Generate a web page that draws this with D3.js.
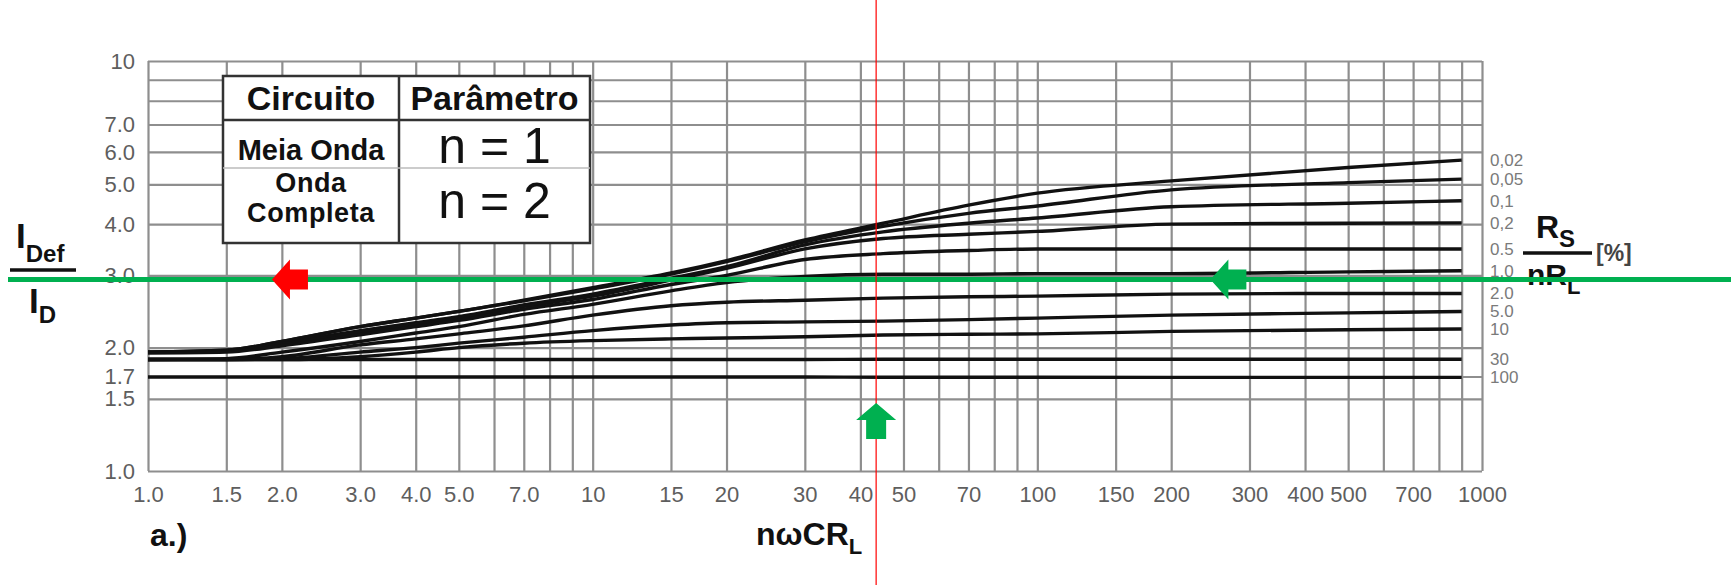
<!DOCTYPE html>
<html>
<head>
<meta charset="utf-8">
<script src="https://cdn.jsdelivr.net/npm/d3@7"></script>
<style>
  body { margin: 0; background: #fff; }
  svg { display: block; }
</style>
</head>
<body>
<svg id="chart"></svg>
<script>
// ---- data ----
const xTicks = [1, 1.5, 2, 3, 4, 5, 7, 10, 15, 20, 30, 40, 50, 70, 100, 150, 200, 300, 400, 500, 700, 1000]
const xTickLabels = ["1.0", "1.5", "2.0", "3.0", "4.0", "5.0", "7.0", "10", "15", "20", "30", "40", "50", "70", "100", "150", "200", "300", "400", "500", "700", "1000"]
const xGrid = [1, 1.5, 2, 3, 4, 5, 6, 7, 8, 9, 10, 15, 20, 30, 40, 50, 60, 70, 80, 90, 100, 150, 200, 300, 400, 500, 600, 700, 800, 900, 1000]
const yTicks = [1, 1.5, 1.7, 2, 3, 4, 5, 6, 7, 10]
const yTickLabels = ["1.0", "1.5", "1.7", "2.0", "3.0", "4.0", "5.0", "6.0", "7.0", "10"]
const yGrid = [1, 1.5, 1.7, 2, 3, 4, 5, 6, 7, 8, 9, 10]

// nωCR_L sample points shared by every curve
const xs = [1, 1.5, 2, 3, 4, 5, 7, 10, 15, 20, 30, 45, 70, 100, 200, 500, 900]

// I_Def / I_D for each Rs/nRL [%]
const r002 = [1.95, 1.97, 2.07, 2.25, 2.36, 2.45, 2.61, 2.8, 3.04, 3.26, 3.66, 4.02, 4.45, 4.76, 5.1, 5.5, 5.73]
const r005 = [1.95, 1.97, 2.07, 2.25, 2.36, 2.45, 2.6, 2.78, 3.02, 3.24, 3.62, 3.95, 4.25, 4.43, 4.85, 5.05, 5.15]
const r01 = [1.95, 1.96, 2.05, 2.2, 2.3, 2.38, 2.54, 2.7, 2.95, 3.15, 3.56, 3.83, 4.02, 4.14, 4.41, 4.5, 4.56]
const r02 = [1.95, 1.96, 2.04, 2.18, 2.28, 2.36, 2.52, 2.67, 2.92, 3.12, 3.48, 3.69, 3.78, 3.84, 4.0, 4.02, 4.03]
const r05 = [1.94, 1.95, 2.02, 2.15, 2.25, 2.33, 2.48, 2.62, 2.85, 3.0, 3.28, 3.39, 3.45, 3.48, 3.48, 3.48, 3.48]
const r1 = [1.87, 1.88, 1.95, 2.07, 2.17, 2.25, 2.41, 2.55, 2.75, 2.88, 2.98, 3.02, 3.02, 3.03, 3.03, 3.06, 3.08]
const r2 = [1.87, 1.87, 1.9, 2.03, 2.1, 2.16, 2.26, 2.4, 2.53, 2.58, 2.61, 2.64, 2.66, 2.67, 2.7, 2.71, 2.71]
const r5 = [1.87, 1.87, 1.88, 1.95, 2.0, 2.05, 2.12, 2.2, 2.27, 2.3, 2.31, 2.32, 2.34, 2.36, 2.4, 2.43, 2.45]
const r10 = [1.87, 1.87, 1.87, 1.9, 1.95, 2.0, 2.05, 2.08, 2.1, 2.11, 2.125, 2.146, 2.155, 2.16, 2.19, 2.21, 2.22]
const r30 = [1.87, 1.87, 1.87, 1.87, 1.87, 1.87, 1.87, 1.87, 1.87, 1.87, 1.87, 1.873, 1.873, 1.873, 1.873, 1.873, 1.873]
const r100 = [1.695, 1.695, 1.695, 1.695, 1.695, 1.695, 1.695, 1.695, 1.695, 1.695, 1.695, 1.693, 1.693, 1.693, 1.692, 1.692, 1.692]

const curveLabels = ["0,02", "0,05", "0,1", "0,2", "0.5", "1.0", "2.0", "5.0", "10", "30", "100"]
const curveValues = [r002, r005, r01, r02, r05, r1, r2, r5, r10, r30, r100]

// reading marks drawn over the chart
const markX = 43.4
const markY = 2.93
const redArrowX = 1.9
const greenArrowX = 245
const upArrowY = 1.465

// ---- layout ----
const width = 1734
const height = 585
const plot = { left: 148, right: 1482, top: 61, bottom: 471 }

const svg = d3.select("#chart").attr("width", width).attr("height", height)
svg.append("rect").attr("width", width).attr("height", height).attr("fill", "#fff")

const x = d3.scaleLog().domain([1, 1000]).range([plot.left, plot.right])
const y = d3.scaleLog().domain([1, 10]).range([plot.bottom, plot.top])

const gridColor = "#8e8e8e"
const tickColor = "#5e5e5e"
const font = "'Liberation Sans', Arial, sans-serif"

// grid
svg.append("g")
  .attr("transform", `translate(0,${plot.bottom})`)
  .call(d3.axisBottom(x).tickValues(xGrid).tickFormat("").tickSize(-(plot.bottom - plot.top)))
  .call((g) => g.select(".domain").remove())
  .call((g) => g.selectAll("line").attr("stroke", gridColor).attr("stroke-width", 2.2))

svg.append("g")
  .attr("transform", `translate(${plot.left},0)`)
  .call(d3.axisLeft(y).tickValues(yGrid).tickFormat("").tickSize(-(plot.right - plot.left)))
  .call((g) => g.select(".domain").remove())
  .call((g) => g.selectAll("line").attr("stroke", gridColor).attr("stroke-width", 2.2))

// tick labels
svg.append("g")
  .attr("transform", `translate(0,${plot.bottom + 12})`)
  .call(d3.axisBottom(x).tickValues(xTicks).tickFormat((d, i) => xTickLabels[i]).tickSize(0))
  .call((g) => g.select(".domain").remove())
  .call((g) => g.selectAll("text")
    .attr("fill", tickColor)
    .style("font-family", font)
    .style("font-size", "22px"))

svg.append("g")
  .attr("transform", `translate(${plot.left - 10},0)`)
  .call(d3.axisLeft(y).tickValues(yTicks).tickFormat((d, i) => yTickLabels[i]).tickSize(0))
  .call((g) => g.select(".domain").remove())
  .call((g) => g.selectAll("text")
    .attr("fill", tickColor)
    .attr("dx", 0)
    .style("font-family", font)
    .style("font-size", "22px"))

// curves
const line = d3.line()
  .x((d) => x(d[0]))
  .y((d) => y(d[1]))
  .curve(d3.curveMonotoneX)

svg.append("g")
  .selectAll("path")
  .data(curveValues)
  .enter()
  .append("path")
  .attr("d", (vals) => line(xs.map((v, i) => [v, vals[i]])))
  .attr("fill", "none")
  .attr("stroke", "#111")
  .attr("stroke-width", 3.4)

// curve labels on the right
svg.append("g")
  .selectAll("text")
  .data(curveValues)
  .enter()
  .append("text")
  .attr("x", plot.right + 8)
  .attr("y", (vals) => y(vals[vals.length - 1]) + 6)
  .attr("fill", "#7a7a7a")
  .style("font-family", font)
  .style("font-size", "17px")
  .text((d, i) => curveLabels[i])

// table
const tbl = { left: 223, mid: 399, right: 590, top: 76, row1: 120, row2: 168, bottom: 243 }
const tg = svg.append("g")
tg.append("rect")
  .attr("x", tbl.left).attr("y", tbl.top)
  .attr("width", tbl.right - tbl.left).attr("height", tbl.bottom - tbl.top)
  .attr("fill", "#fff").attr("stroke", "#333").attr("stroke-width", 2.5)
tg.append("line").attr("x1", tbl.mid).attr("x2", tbl.mid).attr("y1", tbl.top).attr("y2", tbl.bottom)
  .attr("stroke", "#333").attr("stroke-width", 2.5)
tg.append("line").attr("x1", tbl.left).attr("x2", tbl.right).attr("y1", tbl.row1).attr("y2", tbl.row1)
  .attr("stroke", "#333").attr("stroke-width", 2.5)
tg.append("line").attr("x1", tbl.left).attr("x2", tbl.right).attr("y1", tbl.row2).attr("y2", tbl.row2)
  .attr("stroke", "#bbb").attr("stroke-width", 1.5)

const c1 = (tbl.left + tbl.mid) / 2
const c2 = (tbl.mid + tbl.right) / 2
const tableText = [
  { t: ["Circuito"], x: c1, y: 110, size: 34, w: "bold" },
  { t: ["Parâmetro"], x: c2, y: 110, size: 34, w: "bold" },
  { t: ["Meia Onda"], x: c1, y: 160, size: 29, w: "bold" },
  { t: ["Onda", "Completa"], x: c1, y: 192, size: 27, w: "bold", ls: 0.6 },
  { t: ["n = 1"], x: c2, y: 163, size: 50, w: "normal" },
  { t: ["n = 2"], x: c2, y: 218, size: 50, w: "normal" },
]
tg.selectAll("text.cell")
  .data(tableText)
  .enter()
  .append("text")
  .attr("class", "cell")
  .attr("x", (d) => d.x)
  .attr("y", (d) => d.y)
  .attr("text-anchor", "middle")
  .attr("fill", "#111")
  .style("font-family", font)
  .style("font-size", (d) => d.size + "px")
  .style("font-weight", (d) => d.w)
  .style("letter-spacing", (d) => (d.ls || 0) + "px")
  .each(function (d) {
    d.t.forEach((s, i) => {
      d3.select(this).append("tspan")
        .attr("x", d.x)
        .attr("dy", i === 0 ? 0 : 30)
        .text(s)
    })
  })

// axis titles
const bold = (sel, size) => sel
  .attr("fill", "#111")
  .style("font-family", font)
  .style("font-weight", "bold")
  .style("font-size", size + "px")

const yt = svg.append("g")
const num = bold(yt.append("text").attr("x", 16).attr("y", 248), 35)
num.append("tspan").text("I")
num.append("tspan").attr("dy", 14).style("font-size", "24px").text("Def")
yt.append("line").attr("x1", 10).attr("x2", 76).attr("y1", 270).attr("y2", 270)
  .attr("stroke", "#111").attr("stroke-width", 3.5)
const den = bold(yt.append("text").attr("x", 29).attr("y", 313), 35)
den.append("tspan").text("I")
den.append("tspan").attr("dy", 10).style("font-size", "24px").text("D")

const xt = bold(svg.append("text").attr("x", 756).attr("y", 545), 32)
xt.append("tspan").text("nωCR")
xt.append("tspan").attr("dy", 9).style("font-size", "22px").text("L")

bold(svg.append("text").attr("x", 150).attr("y", 546), 32).text("a.)")

// Rs / nRL [%]
const rt = svg.append("g")
const rsT = bold(rt.append("text").attr("x", 1536).attr("y", 238), 32)
rsT.append("tspan").text("R")
rsT.append("tspan").attr("dy", 9).style("font-size", "24px").text("S")
rt.append("line").attr("x1", 1523).attr("x2", 1592).attr("y1", 253).attr("y2", 253)
  .attr("stroke", "#111").attr("stroke-width", 3.5)
bold(rt.append("text").attr("x", 1596).attr("y", 261), 23).attr("fill", "#444").text("[%]")
const nrT = bold(rt.append("text").attr("x", 1527).attr("y", 285), 30)
nrT.append("tspan").text("nR")
nrT.append("tspan").attr("dy", 9).style("font-size", "22px").text("L")

// reading marks: red vertical line, green horizontal line, arrows
const green = "#00b050"
const red = "#ff0000"
svg.append("line")
  .attr("x1", 8).attr("x2", 1731)
  .attr("y1", y(markY)).attr("y2", y(markY))
  .attr("stroke", green).attr("stroke-width", 5)
svg.append("line")
  .attr("x1", x(markX)).attr("x2", x(markX))
  .attr("y1", 0).attr("y2", height)
  .attr("stroke", red).attr("stroke-width", 1.2)

const leftArrow = (tx, ty) => {
  const p = [[0, 0], [18, -20], [18, -10], [36, -10], [36, 10], [18, 10], [18, 20]]
  return "M" + p.map((q) => [tx + q[0], ty + q[1]].join(",")).join("L") + "Z"
}
const upArrow = (tx, ty) => {
  const p = [[0, 0], [20, 17], [10, 17], [10, 36], [-10, 36], [-10, 17], [-20, 17]]
  return "M" + p.map((q) => [tx + q[0], ty + q[1]].join(",")).join("L") + "Z"
}
svg.append("path").attr("d", leftArrow(x(redArrowX), y(markY))).attr("fill", red)
svg.append("path").attr("d", leftArrow(x(greenArrowX), y(markY))).attr("fill", green)
svg.append("path").attr("d", upArrow(x(markX), y(upArrowY))).attr("fill", green)
</script>
</body>
</html>
